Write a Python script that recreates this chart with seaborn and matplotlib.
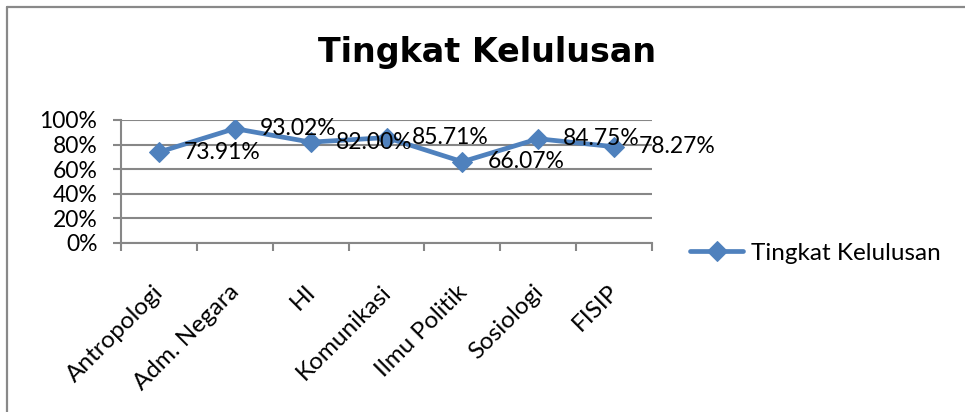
import matplotlib
matplotlib.use("Agg")
import matplotlib.pyplot as plt
import seaborn as sns
import pandas as pd
from matplotlib.lines import Line2D
from matplotlib.ticker import FuncFormatter, MultipleLocator
from matplotlib.transforms import ScaledTranslation

# data
jurusan = ['Antropologi', 'Adm. Negara', 'HI', 'Komunikasi', 'Ilmu Politik', 'Sosiologi', 'FISIP']
kelulusan = [73.91, 93.02, 82.00, 85.71, 66.07, 84.75, 78.27]
series_name = 'Tingkat Kelulusan'

blue = '#4F81BD'
grid_gray = '#878787'

sns.set_style('white')
plt.rcParams['font.family'] = ['Lato', 'DejaVu Sans']
plt.rcParams['text.color'] = 'black'
plt.rcParams['xtick.labelcolor'] = 'black'
plt.rcParams['ytick.labelcolor'] = 'black'

df = pd.DataFrame({'jurusan': jurusan, 'kelulusan': kelulusan})

fig = plt.figure(figsize=(9.65, 4.12), dpi=100)
ax = fig.add_axes([121 / 965, 1 - 243 / 412, (652 - 121) / 965, (243 - 120) / 412])

sns.lineplot(data=df, x='jurusan', y='kelulusan', sort=False, ax=ax,
             color=blue, linewidth=3.4, marker='D', markersize=10,
             markeredgecolor=blue, label=series_name)

# data labels right of each point
for i, v in enumerate(kelulusan):
    ax.annotate(f'{v:.2f}%', (i, v), xytext=(18, 0), textcoords='offset points',
                ha='left', va='center', fontsize=16.5, color='black')

ax.set_xlim(-0.5, len(jurusan) - 0.5)
ax.set_ylim(0, 100)
ax.yaxis.set_major_locator(MultipleLocator(20))
ax.yaxis.set_major_formatter(FuncFormatter(lambda v, p: f'{v:.0f}%'))
ax.set_xlabel('')
ax.set_ylabel('')

ax.grid(axis='y', color=grid_gray, linewidth=1.5)
ax.set_axisbelow(True)
for s in ['top', 'right']:
    ax.spines[s].set_visible(False)
for s in ['left', 'bottom']:
    ax.spines[s].set_color(grid_gray)
    ax.spines[s].set_linewidth(1.5)

# x ticks sit on category boundaries, labels on the categories
ax.set_xticks(range(len(jurusan)))
ax.set_xticklabels(jurusan, rotation=45, ha='right', va='center',
                   rotation_mode='anchor', fontsize=17.5, color='black')
ax.set_xticks([x - 0.5 for x in range(len(jurusan) + 1)], minor=True)
ax.tick_params(axis='x', which='major', length=0, pad=33)
ax.tick_params(axis='x', which='minor', length=6, width=1.5, color=grid_gray, direction='out')
ax.tick_params(axis='y', length=6, width=1.5, color=grid_gray, direction='out',
               labelsize=16.5, pad=11, labelcolor='black')
ax.tick_params(axis='both', which='both', bottom=True, left=True)
for lbl in ax.get_xticklabels():
    lbl.set_transform(lbl.get_transform() + ScaledTranslation(1 / 72, 0, fig.dpi_scale_trans))

leg = ax.legend(loc='center left', bbox_to_anchor=(690 / 965, 1 - 253 / 412),
                bbox_transform=fig.transFigure, frameon=False, fontsize=17.5,
                handlelength=2.2, handletextpad=0.3, borderpad=0, borderaxespad=0,
                labelcolor='black')

fig.text(0.505, 1 - 62 / 412, 'Tingkat Kelulusan', ha='center', va='baseline',
         fontsize=24, fontweight='bold', color='black', family=['DejaVu Sans'])

# chart frame (only top and left edges fall inside the picture)
fig.add_artist(Line2D([7 / 965, 7 / 965], [0, 1 - 7 / 412], transform=fig.transFigure,
                      color='#898989', linewidth=1.6))
fig.add_artist(Line2D([7 / 965, 1], [1 - 7 / 412, 1 - 7 / 412], transform=fig.transFigure,
                      color='#898989', linewidth=1.6))

fig.savefig('out.png', dpi=100)
